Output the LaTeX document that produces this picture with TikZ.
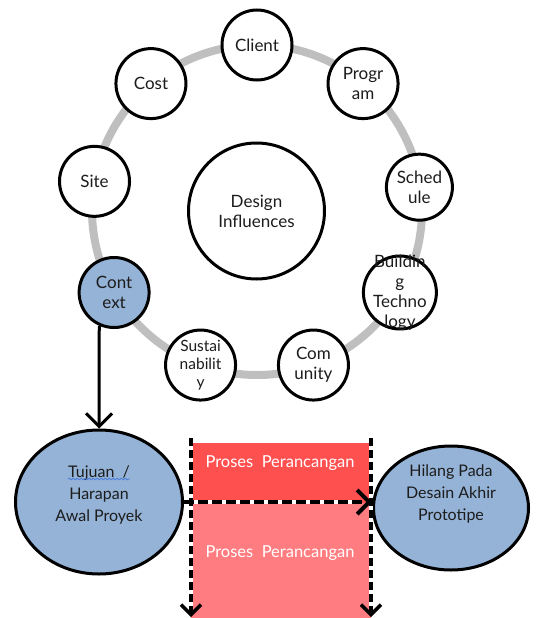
\documentclass[tikz,border=0pt]{standalone}
\usepackage{fontspec}
\setmainfont{Lato}
\usetikzlibrary{arrows.meta,shapes.geometric,decorations.pathmorphing,calc}

\definecolor{ringgray}{HTML}{BFBFBF}
\definecolor{nodeblue}{HTML}{95B3D7}
\definecolor{redtop}{HTML}{FF5050}
\definecolor{redlow}{HTML}{FF7C80}
\definecolor{ink}{HTML}{1C1C1C}
\definecolor{spellblue}{HTML}{4F7FD8}

\begin{document}
\begin{tikzpicture}[x=1pt,y=-1pt,
  every node/.style={text=ink},
  basefont/.style={font=\fontsize{17}{20}\selectfont},
  satellite/.style={circle, draw=black, line width=3pt, fill=white,
    minimum size=70pt, inner sep=0pt},
  sattext/.style={basefont, align=center, inner sep=0pt, text=ink},
  goalshape/.style={ellipse, draw=black, line width=3pt, fill=nodeblue, inner sep=0pt},
  goaltext/.style={font=\fontsize{16}{22}\selectfont, align=center, inner sep=0pt, text=ink},
  procbar/.style={line width=3.5pt, dash pattern=on 8pt off 4pt,
    -{Straight Barb[length=10pt,width=20pt]}},
  procunder/.style={white, line width=3.5pt},
  proctext/.style={font=\fontsize{16.5}{20}\selectfont, text=white, inner sep=0pt}
]
\useasboundingbox (0,0) rectangle (536,618);

% ring of influences
\draw[ringgray, line width=8pt] (257,210) circle[radius=165];

\node[circle, draw=black, line width=3pt, fill=white, minimum size=136pt,
      inner sep=0pt, basefont, align=center] (di) at (256.5,211) {Design\\Influences};

\begin{scope}[shift={(257,210)}]
  \node[satellite, label={[sattext]center:Client}] (cli) at (-90:165) {};
  \node[satellite, label={[sattext]center:{Progr\\am}}] (prg) at (-50:165) {};
  \node[satellite, minimum size=66pt, label={[sattext]center:{Sched\\ule}}] (sch) at (-8:164) {};
  \node[satellite, minimum size=73pt, label={[sattext]center:{Buildin\\g\\Techno\\logy}}] (bt) at (30:165) {};
  \node[satellite, label={[sattext]center:{Com\\unity}}] (com) at (70:165) {};
  \node[satellite, label={[sattext, font=\fontsize{15.5}{18}\selectfont]center:{Sustai\\nabilit\\y}}] (sus) at (110:165) {};
  \node[satellite, fill=nodeblue, label={[sattext]center:{Cont\\ext}}] (ctx) at (150:165) {};
  \node[satellite, label={[sattext]center:Site}] (sit) at (-170:165) {};
  \node[satellite, label={[sattext]center:Cost}] (cst) at (-130:165) {};
\end{scope}

% design process band
\fill[redtop] (191,443) rectangle (371,503);
\fill[redlow] (191,503) rectangle (371,618);
\node[proctext] (pp1) at (280,463) {Proses\ \ Perancangan};
\node[proctext] (pp2) at (280,553) {Proses\ \ Perancangan};

% start and end goals
\node[goalshape, minimum width=167pt, minimum height=144pt,
      label={[goaltext, yshift=7pt]center:{Tujuan\ \ /\\Harapan\\Awal Proyek}}] (lft) at (99,502) {};
\node[goalshape, minimum width=155pt, minimum height=124pt,
      label={[goaltext, yshift=14pt]center:{Hilang Pada\\Desain Akhir\\Prototipe}}] (rgt) at (451,508) {};

% spelling mark under the first word
\draw[spellblue, line width=0.8pt, decorate,
      decoration={snake, amplitude=0.9pt, segment length=4pt}] (68,479) -- (130,479);

% context feeds the project goals
\draw[line width=3pt, -{Straight Barb[length=13pt,width=26pt]}] (ctx.-114) -- (lft.north);

% dashed boundaries of the process band
\coordinate (bl0) at (191,438);
\coordinate (bl1) at (191,617);
\coordinate (br0) at (371,438);
\coordinate (br1) at (371,617);
\draw[procunder] (bl0) -- ($(bl1)+(0,-10)$);
\draw[procunder] (br0) -- ($(br1)+(0,-10)$);
\draw[procbar] (bl0) -- (bl1);
\draw[procbar] (br0) -- (br1);

% goal-to-outcome dashed arrow
\draw[white, line width=4pt] (lft.east) -- ($(lft.east -| rgt.west)+(-12,0)$);
\draw[line width=4pt, dash pattern=on 10pt off 4pt,
      -{Straight Barb[length=12pt,width=24pt]}] (lft.east) -- (lft.east -| rgt.west);
\end{tikzpicture}
\end{document}
